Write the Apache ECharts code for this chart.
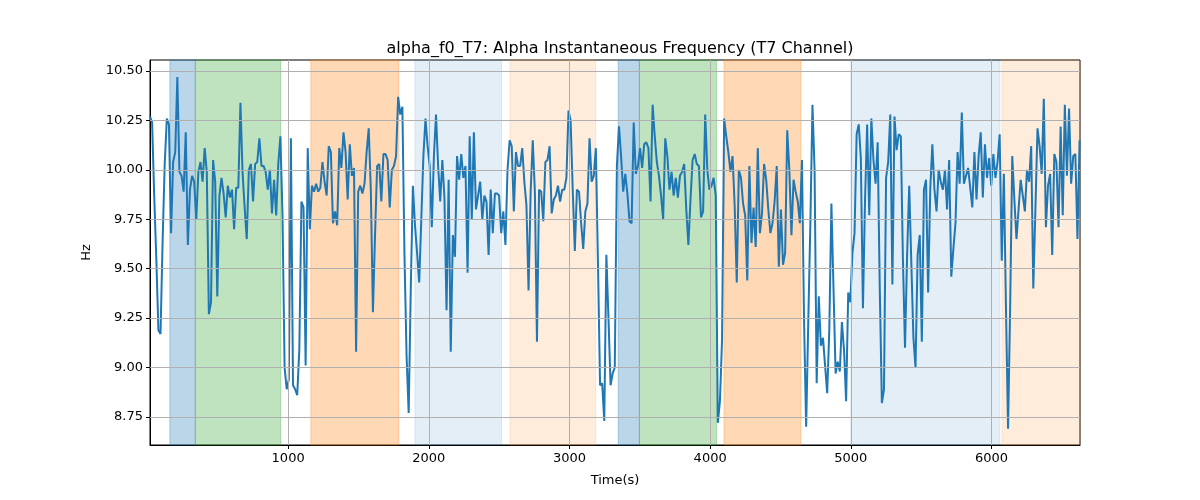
<!DOCTYPE html>
<html>
<head>
<meta charset="utf-8">
<script src="https://cdn.jsdelivr.net/npm/echarts@6/dist/echarts.min.js"></script>
<style>
html,body{margin:0;padding:0;background:#fff;}
#chart{width:1200px;height:500px;}
</style>
</head>
<body>
<div id="chart"></div>
<script>
// ---- data ----
const chartTitle = 'alpha_f0_T7: Alpha Instantaneous Frequency (T7 Channel)';
const xName = 'Time(s)';
const yName = 'Hz';
const tStart = 18;      // time of first sample (s)
const tStep = 14.95;    // sampling step (s)
const values = [
10.27, 10.24, 9.87, 9.55, 9.19, 9.17, 9.64, 10.03, 10.26, 10.23,
9.68, 10.04, 10.09, 10.47, 9.99, 9.97, 9.89, 10.19, 9.62, 9.90,
9.97, 9.94, 9.75, 9.99, 10.04, 9.94, 10.11, 9.99, 9.27, 9.33,
10.05, 9.94, 9.36, 9.87, 9.96, 9.88, 9.76, 9.92, 9.86, 9.90,
9.70, 9.91, 9.91, 10.34, 9.99, 9.81, 9.65, 10.00, 10.03, 9.84,
10.03, 10.04, 10.16, 10.02, 10.02, 9.99, 9.90, 10.00, 9.78, 9.95,
9.77, 10.03, 10.17, 9.77, 9.00, 8.89, 8.94, 10.16, 8.91, 8.89,
8.86, 9.09, 9.84, 9.81,
9.01, 10.11, 9.70, 9.92, 9.89, 9.93, 9.89, 9.91, 10.04, 9.94,
9.87, 10.12, 10.09, 9.73, 9.79, 9.72, 10.11, 10.01, 10.19, 10.09,
9.85, 10.13, 9.97, 10.01, 9.08, 9.89, 9.92, 9.88, 9.93, 10.09,
10.21, 9.90, 9.28, 9.67, 10.02, 10.03, 9.84, 10.08, 10.08, 10.05,
9.81, 10.00, 10.02, 10.07, 10.37, 10.28, 10.32, 9.57, 9.06, 8.77,
9.40, 9.92, 9.72, 9.58, 9.43, 9.75, 10.07, 10.26, 10.12, 10.02,
9.71, 10.07, 10.28, 10.02, 9.84, 10.05, 9.86, 9.29, 9.95, 9.08,
9.67, 9.56, 10.07,
9.95, 10.08, 9.96, 10.02, 9.48, 10.17, 9.75, 10.19, 9.80, 9.87,
9.94, 9.75, 9.87, 9.84, 9.57, 9.90, 9.68, 9.88, 9.88, 9.87,
9.68, 9.79, 9.62, 10.00, 10.15, 10.12, 9.79, 10.09, 10.02, 10.02,
10.11, 9.94, 9.82, 9.39, 9.89, 10.15, 9.89, 9.13, 9.90, 9.89,
9.74, 10.04, 10.05, 10.12, 9.78, 9.85, 9.87, 9.92, 9.84, 9.90,
9.90, 9.96, 10.30, 10.25, 9.90, 9.59, 9.90, 9.89, 9.73, 9.60,
9.79, 9.83, 10.16, 9.94, 9.97, 10.11, 9.53, 8.91, 8.92, 8.73,
9.57, 9.25, 8.91,
8.97, 9.00, 10.02, 10.22, 10.07, 9.89, 9.98, 9.88, 9.74, 9.73,
10.24, 9.98, 10.02, 10.11, 10.01, 10.13, 10.14, 10.11, 9.84, 10.33,
10.17, 10.04, 9.97, 9.87, 9.75, 10.16, 10.07, 9.90, 9.99, 9.87,
9.96, 9.86, 9.97, 9.99, 10.03, 9.80, 9.62, 9.85, 10.05, 10.08,
10.03, 10.02, 9.76, 9.79, 10.28, 10.00, 9.90, 9.92, 9.96, 9.87,
8.72, 8.83, 9.14, 10.26, 10.17, 10.09, 9.99, 10.07, 9.82, 9.43,
10.00, 9.96, 9.83, 9.77, 9.44, 10.02, 9.63, 9.81, 9.61, 10.11,
9.68, 9.78, 10.03,
9.95, 9.80, 9.68, 9.73, 9.84, 10.02, 9.51, 9.80, 9.52, 9.58,
10.20, 10.00, 9.67, 9.95, 9.89, 9.84, 9.73, 10.05, 9.23, 8.70,
9.23, 9.73, 10.33, 10.00, 8.92, 9.36, 9.11, 9.15, 9.01, 8.87,
9.19, 9.83, 9.40, 8.97, 9.03, 8.98, 9.23, 9.09, 8.83, 9.38,
9.33, 9.58, 9.68, 10.18, 10.23, 10.06, 9.30, 9.85, 10.23, 9.77,
10.26, 10.05, 9.93, 10.14, 9.40, 8.82, 8.89, 9.96, 10.04, 10.28,
9.42, 10.27, 10.10, 10.18, 10.17, 9.55, 9.10, 9.57, 9.92, 9.53,
9.15, 9.00, 9.57, 9.67, 9.13,
9.90, 9.95, 9.38, 9.90, 10.13, 9.90, 9.79, 10.00, 9.94, 9.90,
10.00, 9.80, 10.05, 9.46, 9.60, 9.73, 10.09, 9.93, 10.29, 9.93,
9.97, 10.01, 9.91, 9.81, 10.09, 9.85, 10.07, 10.19, 9.86, 10.13,
9.96, 10.06, 9.92, 10.08, 9.96, 10.04, 10.18, 9.54, 9.98, 9.31,
8.69, 9.31, 10.07, 9.85, 9.65, 9.80, 9.95, 9.87, 9.79, 10.00,
9.94, 10.12, 9.40, 9.80, 10.21, 10.12, 9.98, 10.36, 9.71, 9.92,
9.98, 9.57, 10.08, 10.04, 9.71, 10.22, 9.77, 10.33, 9.97, 10.31,
9.93, 10.07, 10.08, 9.65, 10.15
];
// shaded intervals (s)
const spanStart = [159, 340, 1161, 1901, 2576, 3346, 3497, 4098, 5000, 6074];
const spanEnd   = [340, 948, 1787, 2517, 3186, 3497, 4046, 4645, 6060, 6629];
const spanKind  = ['A', 'B', 'C', 'D', 'E', 'A', 'B', 'C', 'D', 'E'];
// axis ranges and tick values
const xMin = 18, xMax = 6629;
const yMin = 8.608, yMax = 10.556;
const xTicks = [1000, 2000, 3000, 4000, 5000, 6000];
const yTicks = [8.75, 9.00, 9.25, 9.50, 9.75, 10.00, 10.25, 10.50];

// ---- styles ----
const kindColor = {
  A: 'rgba(31,119,180,0.3)',
  B: 'rgba(44,160,44,0.3)',
  C: 'rgba(255,127,14,0.3)',
  D: 'rgba(31,119,180,0.12)',
  E: 'rgba(255,127,14,0.15)'
};

const seriesData = values.map((v, i) => [tStart + i * tStep, v]);
const areas = spanStart.map((s, i) => [
  { xAxis: s, itemStyle: { color: kindColor[spanKind[i]], borderColor: kindColor[spanKind[i]], borderWidth: 1 } },
  { xAxis: spanEnd[i] }
]);
const gridLines = xTicks.map(v => ({ xAxis: v })).concat(yTicks.map(v => ({ yAxis: v })));

const font = 'DejaVu Sans';
const chart = echarts.init(document.getElementById('chart'), null, { renderer: 'canvas' });
chart.setOption({
  animation: false,
  backgroundColor: '#fff',
  title: {
    text: chartTitle,
    left: 615,
    top: 36,
    textAlign: 'center',
    textStyle: { fontFamily: font, fontSize: 16, fontWeight: 'normal', color: '#000' }
  },
  grid: {
    left: 150, right: 120, top: 60, bottom: 55,
    show: true, borderColor: '#000', borderWidth: 1, backgroundColor: 'transparent'
  },
  xAxis: {
    type: 'value',
    min: xMin, max: xMax,
    name: xName, nameLocation: 'middle', nameGap: 29,
    nameTextStyle: { fontFamily: font, fontSize: 13, color: '#000' },
    axisLine: { show: true, onZero: false, lineStyle: { color: '#000', width: 1 } },
    axisTick: { show: true, inside: false, length: 4, customValues: xTicks, lineStyle: { color: '#000' } },
    axisLabel: { fontFamily: font, fontSize: 13, color: '#000', margin: 7, customValues: xTicks,
      formatter: v => String(v) },
    splitLine: { show: false }
  },
  yAxis: {
    type: 'value',
    min: yMin, max: yMax,
    name: yName, nameLocation: 'middle', nameGap: 57,
    nameTextStyle: { fontFamily: font, fontSize: 13, color: '#000' },
    axisLine: { show: true, lineStyle: { color: '#000', width: 1 } },
    axisTick: { show: true, inside: false, length: 4, customValues: yTicks, lineStyle: { color: '#000' } },
    axisLabel: { fontFamily: font, fontSize: 13, color: '#000', margin: 7, customValues: yTicks,
      formatter: v => v.toFixed(2) },
    splitLine: { show: false }
  },
  series: [
    {
      type: 'line',
      data: [],
      silent: true,
      z: 1,
      markArea: { silent: true, data: areas }
    },
    {
      type: 'line',
      data: [],
      silent: true,
      z: 2,
      markLine: {
        silent: true, symbol: ['none', 'none'], animation: false,
        label: { show: false },
        lineStyle: { color: '#b0b0b0', width: 1, type: 'solid' },
        emphasis: { disabled: true },
        data: gridLines
      }
    },
    {
      type: 'line',
      data: seriesData,
      showSymbol: false,
      symbol: 'none',
      z: 3,
      lineStyle: { color: '#1f77b4', width: 2 },
      itemStyle: { color: '#1f77b4' }
    }
  ]
});
</script>
</body>
</html>
